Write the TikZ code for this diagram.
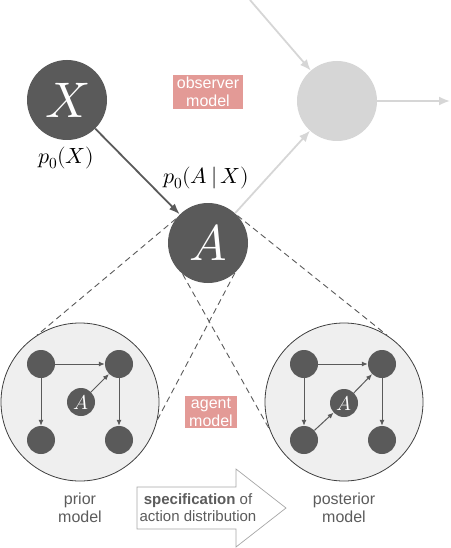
\documentclass[tikz,border=0pt]{standalone}
\usepackage{fontspec}
\usepackage{unicode-math}
\setsansfont{Liberation Sans}
\usetikzlibrary{positioning,calc,arrows.meta}

\definecolor{darknode}{HTML}{5A5A5A}
\definecolor{lightnode}{HTML}{D6D6D6}
\definecolor{modelfill}{HTML}{EFEFEF}
\definecolor{labelpink}{HTML}{E39A96}
\definecolor{labeltext}{HTML}{5C5C5C}

\begin{document}
\begin{tikzpicture}[
  x=1pt,y=-1pt,
  every node/.style={font=\sffamily},
  big-var/.style={circle,fill=darknode,text=white,minimum size=80pt,inner sep=0pt,
    font=\fontsize{50}{50}\selectfont},
  ghost-var/.style={circle,fill=lightnode,minimum size=80pt,inner sep=0pt},
  small-var/.style={circle,fill=darknode,text=white,minimum size=28pt,inner sep=0pt,
    font=\fontsize{20}{20}\selectfont},
  model-ring/.style={circle,draw=black!75,fill=modelfill,line width=0.8pt,minimum size=158pt,inner sep=0pt},
  prob-text/.style={font=\fontsize{22}{22}\selectfont},
  tag-box/.style={fill=labelpink,text=white,inner xsep=4pt,inner ysep=2pt,align=center,
    font=\sffamily\fontsize{16}{18}\selectfont},
  caption-text/.style={text=labeltext,align=center,font=\sffamily\fontsize{16}{18}\selectfont},
  main-edge/.style={draw=darknode,line width=1.8pt,-{Latex[length=11pt,width=8pt]}},
  ghost-edge/.style={draw=lightnode,line width=1.8pt,-{Latex[length=11pt,width=9pt]}},
  inner-edge/.style={draw=darknode,line width=1pt,-{Latex[length=6pt,width=5pt]}},
  cone-line/.style={draw=darknode,line width=0.9pt,dash pattern=on 6pt off 4pt},
  ]

  \useasboundingbox (0,0) rectangle (450,548);

  % observer level
  \node [big-var] (x-node) at (67,100) {\(X\)};
  \node [ghost-var] (ghost-node) at (337,101) {};
  \node [big-var] (act-node) at (208,243) {\(A\)};
  \coordinate (ghost-in) at (250,0);
  \coordinate (ghost-out) at (450,101);

  \node [prob-text] (x-prob) at (66,158) {\(p_0(X)\)};
  \node [prob-text] (act-prob) at (206,178) {\(p_0(A\,|\,X)\)};
  \node [tag-box] (observer-tag) at (208,92) {observer\\model};

  \draw [main-edge] (x-node) -- (act-node);
  \draw [ghost-edge] (act-node) -- (ghost-node);
  \draw [ghost-edge] (ghost-in) -- (ghost-node);
  \draw [ghost-edge] (ghost-node) -- (ghost-out);

  % agent level
  \node [model-ring] (prior-ring) at (80,402) {};
  \node [model-ring] (post-ring) at (344,402) {};

  \draw [cone-line] (act-node.143) -- (prior-ring.123);
  \draw [cone-line] (act-node.312) -- (prior-ring.347);
  \draw [cone-line] (act-node.43) -- (post-ring.57);
  \draw [cone-line] (act-node.231) -- (post-ring.200);

  \node [small-var] (prior-tl) at (41,364) {};
  \node [small-var] (prior-tr) at (119,364) {};
  \node [small-var] (prior-bl) at (41,440) {};
  \node [small-var] (prior-br) at (119,440) {};
  \node [small-var] (prior-act) at (81,402) {\(A\)};
  \draw [inner-edge] (prior-tl) -- (prior-tr);
  \draw [inner-edge] (prior-tl) -- (prior-bl);
  \draw [inner-edge] (prior-tr) -- (prior-br);
  \draw [inner-edge] (prior-act) -- (prior-tr);

  \node [small-var] (post-tl) at (304,364) {};
  \node [small-var] (post-tr) at (382,364) {};
  \node [small-var] (post-bl) at (304,440) {};
  \node [small-var] (post-br) at (382,440) {};
  \node [small-var] (post-act) at (344,403) {\(A\)};
  \draw [inner-edge] (post-tl) -- (post-tr);
  \draw [inner-edge] (post-tl) -- (post-bl);
  \draw [inner-edge] (post-tr) -- (post-br);
  \draw [inner-edge] (post-bl) -- (post-act);
  \draw [inner-edge] (post-act) -- (post-tr);

  \node [tag-box] (agent-tag) at (211,412) {agent\\model};
  \node [caption-text,below=8pt of prior-ring] (prior-text) {prior\\model};
  \node [caption-text,below=8pt of post-ring] (post-text) {posterior\\model};

  \draw [draw=black!35,fill=white,line width=0.7pt]
    (137,487) -- (236,487) -- (236,469) -- (286,508) -- (236,547) -- (236,529) -- (137,529) -- cycle;
  \node [caption-text,font=\sffamily\fontsize{15}{17}\selectfont] (spec-text) at (198,508)
    {\textbf{specification} of\\action distribution};

\end{tikzpicture}
\end{document}
